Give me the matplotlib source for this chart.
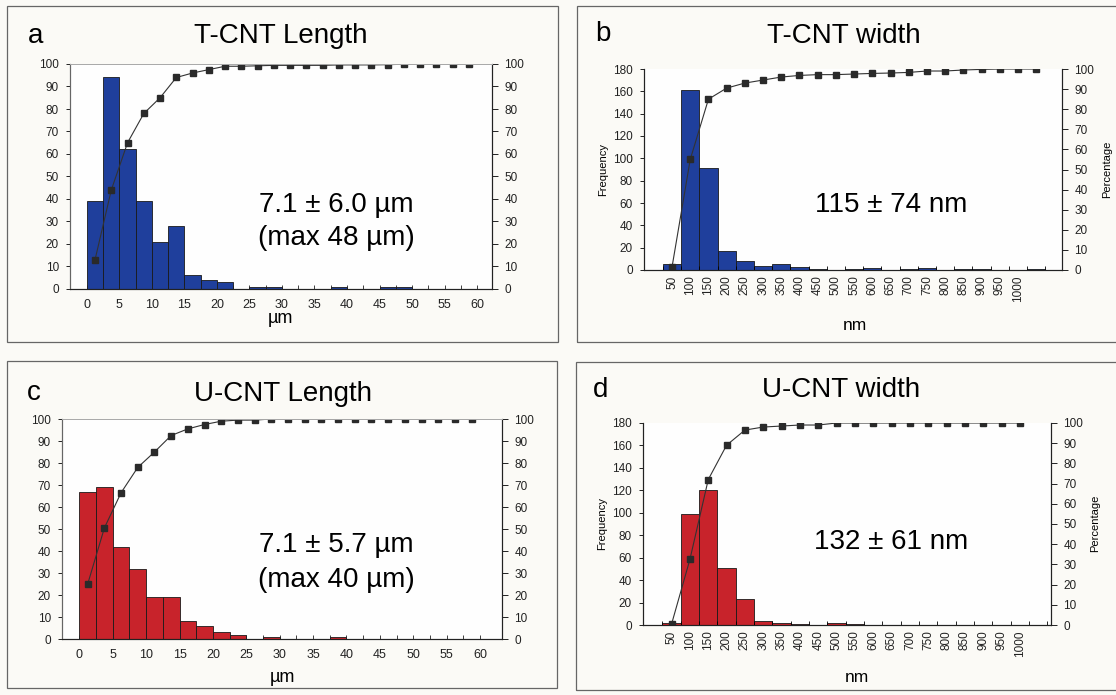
import numpy as np
import matplotlib.pyplot as plt
from matplotlib.patches import Rectangle

plt.rcParams['font.family'] = ['Liberation Sans', 'DejaVu Sans']

# ---- data ----
# length histograms: 2.5 um bins starting at 0
len_bin_left = np.arange(0, 60, 2.5)
t_len_counts = [39, 94, 62, 39, 21, 28, 6, 4, 3, 0, 1, 1,
                0, 0, 0, 1, 0, 0, 1, 1, 0, 0, 0, 0]
t_len_cum = [13, 44, 65, 78, 85, 94, 96, 97.5, 99, 99, 99.2, 99.4,
             99.4, 99.4, 99.4, 99.6, 99.6, 99.6, 99.7, 99.9, 100, 100, 100, 100]
u_len_counts = [67, 69, 42, 32, 19, 19, 8, 6, 3, 2, 0, 1,
                0, 0, 0, 1, 0, 0, 0, 0, 0, 0, 0, 0]
u_len_cum = [25, 50.5, 66.5, 78, 85, 92.5, 95.5, 97.5, 99, 99.5, 99.5, 100,
             100, 100, 100, 100, 100, 100, 100, 100, 100, 100, 100, 100]

# width histograms: 50 nm categories
width_labels = [str(v) for v in range(50, 1001, 50)]
t_wid_pos = list(range(50, 1051, 50))          # last slot is unlabelled
t_wid_counts = [5, 161, 91, 17, 8, 4, 5, 3, 1, 0, 1, 2, 0, 1, 2, 0, 1, 1, 0, 0, 1]
t_wid_cum = [1.5, 55, 85, 90.5, 93, 94.5, 96, 96.8, 97.2, 97.2, 97.5,
             97.8, 98, 98.3, 99, 99, 99.5, 99.8, 100, 100, 100]
u_wid_pos = list(range(50, 1001, 50))
u_wid_counts = [2, 99, 120, 51, 23, 4, 2, 1, 0, 2, 1, 0, 0, 0, 0, 0, 0, 0, 0, 0]
u_wid_cum = [0.5, 32.5, 72, 89, 96.5, 98, 98.5, 99, 99, 100,
             100, 100, 100, 100, 100, 100, 100, 100, 100, 100]

BLUE = '#1f3f9c'
RED = '#c8232b'
W, H = 1116, 695

fig = plt.figure(figsize=(W / 100, H / 100), dpi=100)
fig.patch.set_facecolor('#fbfaf6')


def px_axes(l, t, r, b):
    return fig.add_axes([l / W, 1 - b / H, (r - l) / W, (b - t) / H])


def ftext(x, y, s, **kw):
    fig.text(x / W, 1 - y / H, s, **kw)


def frame(l, t, r, b):
    fig.patches.append(Rectangle((l / W, 1 - b / H), (r - l) / W, (b - t) / H,
                                 transform=fig.transFigure, fill=False,
                                 edgecolor='#666666', lw=0.9))


def style_axes(ax, ax2, ymax, ystep, boxed_top):
    ax.set_facecolor('#fefefe')
    ax.set_ylim(0, ymax)
    ax.set_yticks(np.arange(0, ymax + 1, ystep))
    ax2.set_ylim(0, 100)
    ax2.set_yticks(np.arange(0, 101, 10))
    ax.tick_params(axis='y', direction='out', length=3, width=0.7, pad=5,
                   labelsize=8.5, colors='#222222')
    ax2.tick_params(axis='y', direction='out', length=4, width=0.7, pad=5,
                    labelsize=8.5, colors='#222222')
    for a in (ax, ax2):
        a.spines['bottom'].set_color('#222222')
        a.spines['right'].set_color('#222222')
        a.spines['left'].set_color('#666666' if boxed_top else '#222222')
        if boxed_top:
            a.spines['top'].set_color('#aaaaaa')
            a.spines['top'].set_linewidth(0.7)
        else:
            a.spines['top'].set_visible(False)


def length_panel(box, axbox, counts, cum, color, xmax):
    frame(*box)
    ax = px_axes(*axbox)
    ax.bar(len_bin_left, counts, width=2.5, align='edge', color=color,
           edgecolor='#1a1a1a', linewidth=0.6)
    ax2 = ax.twinx()
    ax2.plot(len_bin_left + 1.25, cum, color='#333333', lw=0.8, marker='s',
             markersize=3.8, markerfacecolor='#2a2a2a', markeredgecolor='#2a2a2a')
    ax.set_xlim(-2.6, xmax)
    ax.set_xticks(np.arange(0, 61, 5))
    ax.set_xticks(np.arange(0, 61, 2.5), minor=True)
    ax.tick_params(axis='x', which='both', direction='in', length=3, width=0.6,
                   labelsize=9, pad=7, colors='#222222')
    style_axes(ax, ax2, 100, 10, True)
    return ax


def width_panel(box, axbox, pos, counts, cum, color, xlim):
    frame(*box)
    ax = px_axes(*axbox)
    ax.bar(pos, counts, width=50, color=color, edgecolor='#1a1a1a', linewidth=0.6)
    ax2 = ax.twinx()
    ax2.plot(pos, cum, color='#333333', lw=0.8, marker='s', markersize=4.5,
             markerfacecolor='#2a2a2a', markeredgecolor='#2a2a2a')
    ax.set_xlim(*xlim)
    ax.set_xticks(range(50, 1001, 50))
    ax.set_xticklabels(width_labels, rotation=90)
    ax.set_xticks(np.arange(25, xlim[1], 50), minor=True)
    ax.tick_params(axis='x', which='major', length=0, labelsize=8.5, pad=4,
                   colors='#222222')
    ax.tick_params(axis='x', which='minor', direction='in', length=3, width=0.6)
    style_axes(ax, ax2, 180, 20, False)
    return ax, ax2


big = dict(fontsize=20, ha='left', va='baseline')
note = dict(fontsize=20, ha='center', va='baseline')

# a: T-CNT length
length_panel((7, 6, 558, 342), (70, 64, 492, 289), t_len_counts, t_len_cum, BLUE, 62.3)
ftext(28, 43, 'a', **big)
ftext(194, 43, 'T-CNT Length', **big)
ftext(336, 212, '7.1 ± 6.0 µm', **note)
ftext(336, 245, '(max 48 µm)', **note)
ftext(280, 323, 'µm', fontsize=13, ha='center', va='baseline')

# b: T-CNT width
width_panel((577, 6, 1118, 342), (644, 69, 1062, 270), t_wid_pos, t_wid_counts,
            t_wid_cum, BLUE, (-27, 1121))
ftext(595, 41, 'b', **big)
ftext(767, 43, 'T-CNT width', **big)
ftext(891, 212, '115 ± 74 nm', **note)
ftext(855, 330, 'nm', fontsize=12.5, ha='center', va='baseline')
ftext(603, 169, 'Frequency', fontsize=8, rotation=90, ha='center', va='center')
ftext(1107, 169, 'Percentage', fontsize=8, rotation=90, ha='center', va='center')

# c: U-CNT length
length_panel((7, 361, 557, 688), (62, 419, 502, 639), u_len_counts, u_len_cum, RED, 63.3)
ftext(27, 400, 'c', **big)
ftext(194, 401, 'U-CNT Length', **big)
ftext(336, 552, '7.1 ± 5.7 µm', **note)
ftext(336, 587, '(max 40 µm)', **note)
ftext(282, 682, 'µm', fontsize=13, ha='center', va='baseline')

# d: U-CNT width
width_panel((576, 362, 1118, 690), (643, 423, 1051, 625), u_wid_pos, u_wid_counts,
            u_wid_cum, RED, (-28, 1085))
ftext(593, 397, 'd', **big)
ftext(762, 397, 'U-CNT width', **big)
ftext(891, 549, '132 ± 61 nm', **note)
ftext(857, 682, 'nm', fontsize=12.5, ha='center', va='baseline')
ftext(602, 523, 'Frequency', fontsize=8, rotation=90, ha='center', va='center')
ftext(1095, 523, 'Percentage', fontsize=8, rotation=90, ha='center', va='center')

fig.savefig('out.png', dpi=100, facecolor=fig.get_facecolor())
